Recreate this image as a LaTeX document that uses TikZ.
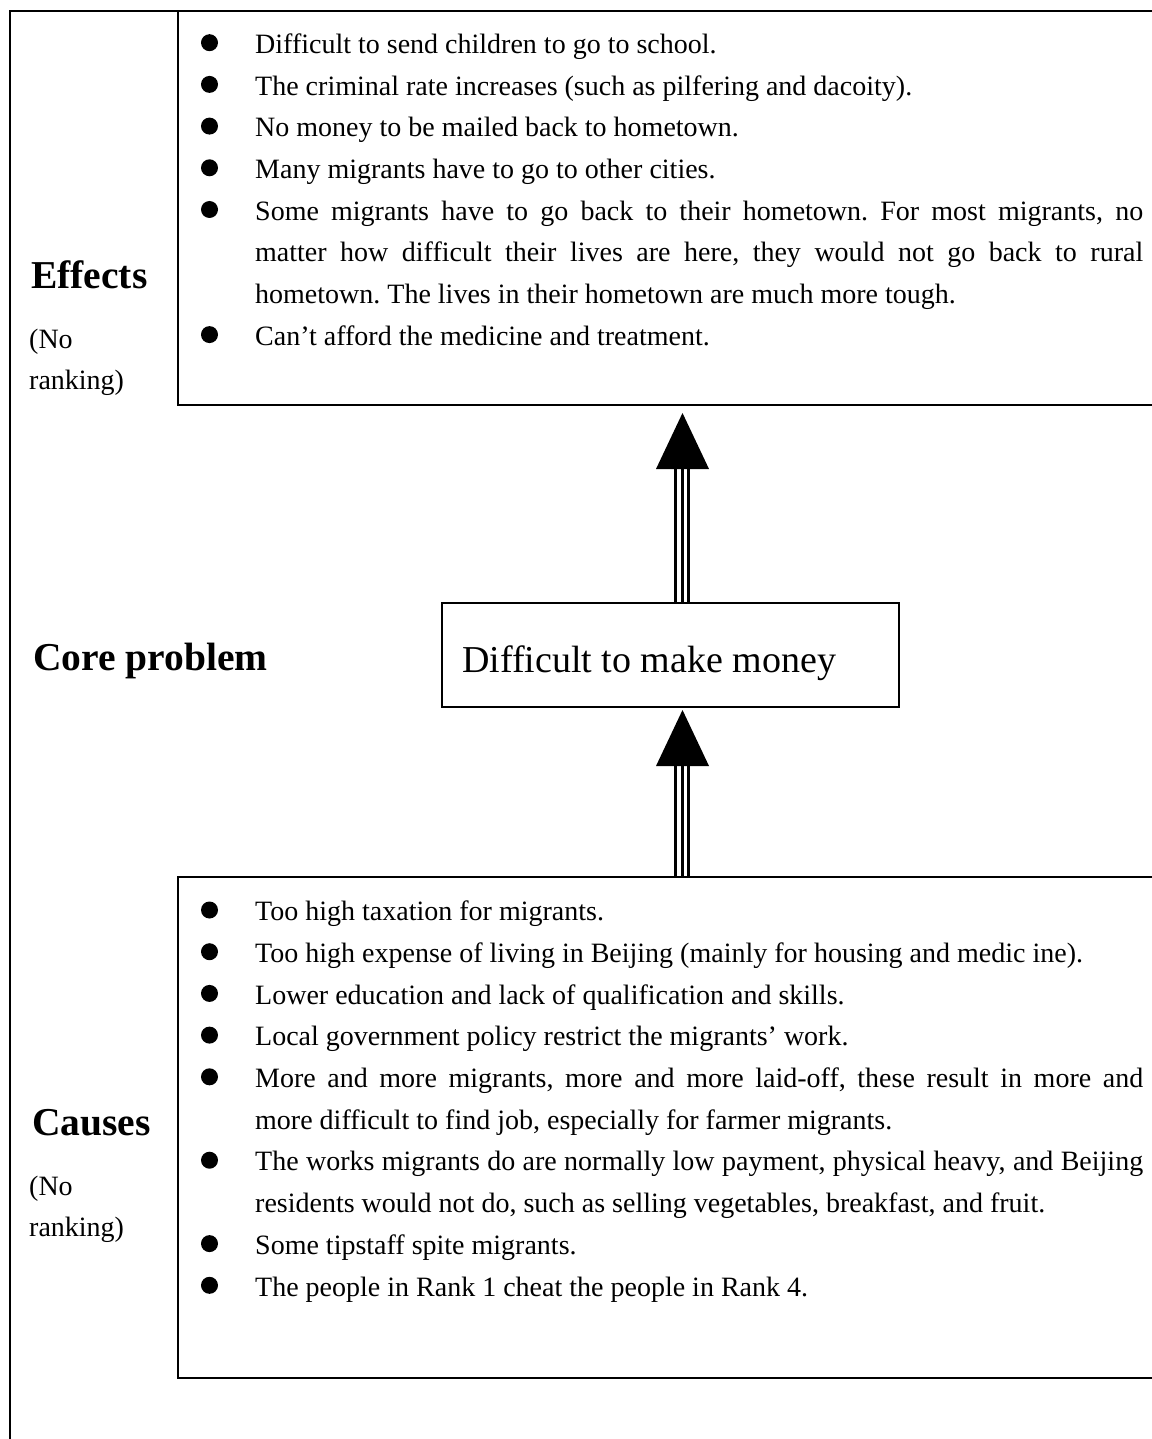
\documentclass[tikz,border=0pt]{standalone}
\usepackage{fontspec}
\setmainfont{Liberation Serif}
\frenchspacing
\begin{document}
\begin{tikzpicture}[x=1pt,y=-1pt,
  frame/.style={line width=2.3pt},
  bul/.style={circle, fill=black, inner sep=0pt, minimum size=17pt},
  txt/.style={anchor=base west, inner sep=0pt, font=\fontsize{28}{34}\selectfont},
  small/.style={anchor=base west, inner sep=0pt, font=\fontsize{28}{34}\selectfont},
  head/.style={anchor=base west, inner sep=0pt, font=\fontsize{39.5}{46}\selectfont\bfseries},
  corebox/.style={draw, line width=2pt, minimum width=457pt, minimum height=104pt, inner sep=0pt},
  shaft/.style={line width=3pt},
  tip/.style={fill=black}
]
\useasboundingbox (0,0) rectangle (1151,1439);
% outer frame and boxes
\coordinate (oTL) at (10,11);
\draw[frame] (10,1450) -- (oTL) -- (1160,11);
\coordinate (eTL) at (178,11);
\coordinate (eBL) at (178,405);
\draw[frame] (eTL) -- (eBL) -- (1160,405);
\coordinate (cTL) at (178,877);
\coordinate (cBL) at (178,1378);
\draw[frame] (1160,877) -- (cTL) -- (cBL) -- (1160,1378);

% headings
\node[head] (hEff) at (31,288) {Effects};
\node[small] (nr1a) at (29,348) {(No};
\node[small] (nr1b) at (29,389) {ranking)};
\node[head] (hCore) at (33,670) {Core problem};
\node[head] (hCau) at (32,1135) {Causes};
\node[small] (nr2a) at (29,1195) {(No};
\node[small] (nr2b) at (29,1236) {ranking)};

% core box
\node[corebox] (core) at (670.5,655) {};
\node[anchor=base west, inner sep=0pt, font=\fontsize{38}{44}\selectfont] (coretxt) at (462,672) {Difficult to make money};

% effects
\node[bul] (eb1) at (209.5,42.7) {};
\node[txt] (e1) at (255,53.4) {Difficult to send children to go to school.};
\node[bul] (eb2) at (209.5,84.4) {};
\node[txt] (e2) at (255,95.1) {The criminal rate increases (such as pilfering and dacoity).};
\node[bul] (eb3) at (209.5,126.1) {};
\node[txt] (e3) at (255,136.8) {No money to be mailed back to hometown.};
\node[bul] (eb4) at (209.5,167.8) {};
\node[txt] (e4) at (255,178.5) {Many migrants have to go to other cities.};
\node[bul] (eb5) at (209.5,209.5) {};
\node[txt] (e5a) at (255,220.2) {\makebox[888pt][s]{Some migrants have to go back to their hometown. For most migrants, no}};
\node[txt] (e5b) at (255,261.9) {\makebox[888pt][s]{matter how difficult their lives are here, they would not go back to rural}};
\node[txt] (e5c) at (255,303.6) {hometown. The lives in their hometown are much more tough.};
\node[bul] (eb6) at (209.5,334.6) {};
\node[txt] (e6) at (255,345.3) {Can’t afford the medicine and treatment.};

% causes
\node[bul] (cb1) at (209.5,910) {};
\node[txt] (c1) at (255,920.7) {Too high taxation for migrants.};
\node[bul] (cb2) at (209.5,951.7) {};
\node[txt] (c2) at (255,962.4) {Too high expense of living in Beijing (mainly for housing and medic ine).};
\node[bul] (cb3) at (209.5,993.4) {};
\node[txt] (c3) at (255,1004.1) {Lower education and lack of qualification and skills.};
\node[bul] (cb4) at (209.5,1035.1) {};
\node[txt] (c4) at (255,1045.8) {Local government policy restrict the migrants’ work.};
\node[bul] (cb5) at (209.5,1076.8) {};
\node[txt] (c5a) at (255,1087.5) {\makebox[888pt][s]{More and more migrants, more and more laid-off, these result in more and}};
\node[txt] (c5b) at (255,1129.2) {more difficult to find job, especially for farmer migrants.};
\node[bul] (cb6) at (209.5,1160.2) {};
\node[txt] (c6a) at (255,1170.9) {\makebox[888pt][s]{The works migrants do are normally low payment, physical heavy, and Beijing}};
\node[txt] (c6b) at (255,1212.6) {residents would not do, such as selling vegetables, breakfast, and fruit.};
\node[bul] (cb7) at (209.5,1243.6) {};
\node[txt] (c7) at (255,1254.3) {Some tipstaff spite migrants.};
\node[bul] (cb8) at (209.5,1285.3) {};
\node[txt] (c8) at (255,1296.0) {The people in Rank 1 cheat the people in Rank 4.};

% upper arrow: core -> effects
\coordinate (upTip) at (682.5,413);
\foreach \dx in {-6.5,0,6.5}
  \draw[shaft] ([xshift=\dx pt+11.5pt]core.north) -- ++(0,-135);
\fill[tip] (upTip) -- ++(-26.5,56) -- ++(53,0) -- cycle;

% lower arrow: causes -> core
\coordinate (cauTop) at (682,877);
\coordinate (lowTip) at (682.5,710);
\foreach \dx in {-6.5,0,6.5}
  \draw[shaft] ([xshift=\dx pt]cauTop) -- ++(0,-112);
\fill[tip] (lowTip) -- ++(-26.5,56) -- ++(53,0) -- cycle;
\end{tikzpicture}
\end{document}
